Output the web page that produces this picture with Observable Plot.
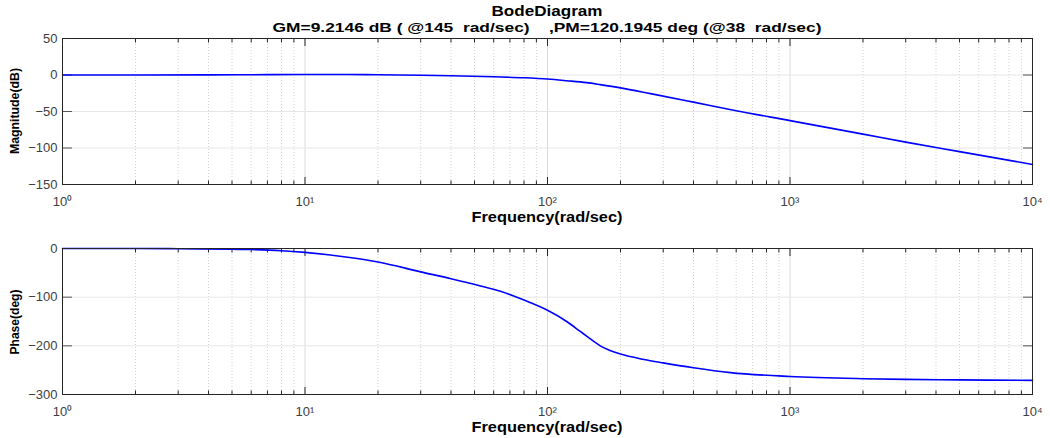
<!DOCTYPE html>
<html>
<head>
<meta charset="utf-8">
<script src="https://cdn.jsdelivr.net/npm/d3@7"></script>
<script src="https://cdn.jsdelivr.net/npm/@observablehq/plot@0.6"></script>
<style>
  html, body { margin: 0; padding: 0; background: #fff; overflow: hidden; }
  #wrap { position: relative; width: 1050px; height: 438px; background: #fff; }
  .plot { position: absolute; left: 0; }
  #overlay { position: absolute; left: 0; top: 0; pointer-events: none; }
  #overlay text { font-family: "Liberation Sans", Arial, sans-serif; font-weight: bold; fill: #000; white-space: pre; }
</style>
</head>
<body>
<div id="wrap">
  <div id="p1" class="plot" style="top:30px"></div>
  <div id="p2" class="plot" style="top:240px"></div>
  <svg id="overlay" width="1050" height="438">
    <text x="547" y="16" text-anchor="middle" font-size="14" textLength="111" lengthAdjust="spacingAndGlyphs">BodeDiagram</text>
    <text x="547" y="32" text-anchor="middle" font-size="13" textLength="549" lengthAdjust="spacingAndGlyphs" xml:space="preserve">GM=9.2146 dB ( @145  rad/sec)    ,PM=120.1945 deg (@38  rad/sec)</text>
    <text x="547" y="221.5" text-anchor="middle" font-size="14" textLength="151" lengthAdjust="spacingAndGlyphs">Frequency(rad/sec)</text>
    <text x="547" y="431.5" text-anchor="middle" font-size="14" textLength="151" lengthAdjust="spacingAndGlyphs">Frequency(rad/sec)</text>
    <text transform="translate(19,111) rotate(-90)" text-anchor="middle" font-size="13" textLength="86" lengthAdjust="spacingAndGlyphs">Magnitude(dB)</text>
    <text transform="translate(19,322) rotate(-90)" text-anchor="middle" font-size="13" textLength="65" lengthAdjust="spacingAndGlyphs">Phase(deg)</text>
  </svg>
</div>
<script>
// ---- data ----
const freq = [1, 2, 4, 7, 10, 15, 20, 30, 40, 60, 80, 100, 120, 145, 165, 200, 266, 400, 600, 1000, 2000, 3000, 5000, 10000];
const magnitudeDB = [0, 0, 0.2, 0.5, 0.6, 0.6, 0.4, -0.3, -1.0, -2.5, -3.8, -5.5, -7.8, -10.5, -13.2, -17.6, -25.5, -37.2, -49, -62.5, -81, -92, -105, -122.5];

const phaseFreq = [1, 2, 3, 5, 6, 8, 10, 15, 20, 30, 40, 53, 64, 80, 100, 120, 137, 145, 165, 180, 200, 250, 300, 400, 568, 1000, 2000, 3000, 5000, 10000];
const phaseDeg = [0, 0, -0.5, -1.5, -2.2, -4.5, -8, -18, -27.6, -48, -62, -77, -88, -106, -127, -150, -171, -180, -200, -209, -217, -228, -235, -245, -255, -263, -267.5, -269, -270, -271];

const majorX = [1, 10, 100, 1000, 10000];
const minorX = [2,3,4,5,6,7,8,9, 20,30,40,50,60,70,80,90, 200,300,400,500,600,700,800,900, 2000,3000,4000,5000,6000,7000,8000,9000];
const magTicks = [50, 0, -50, -100, -150];
const phaseTicks = [0, -100, -200, -300];
const expSup = ["\u2070", "\u00b9", "\u00b2", "\u00b3", "\u2074"];

const magData = freq.map((f, i) => ({f, v: magnitudeDB[i]}));
const phData = phaseFreq.map((f, i) => ({f, v: phaseDeg[i]}));

const supFmt = d => "10" + expSup[Math.round(Math.log10(d))];
const blank = () => "";
const frameColor = "#262626";

function bode(data, yDomain, yTicks, height, marginBottom) {
  return Plot.plot({
    width: 1050,
    height,
    marginLeft: 62,
    marginRight: 18,
    marginTop: 8,
    marginBottom,
    style: {fontFamily: "Liberation Sans, Arial, sans-serif", fontSize: "13px", color: "#404040", background: "transparent"},
    x: {type: "log", domain: [1, 10000]},
    y: {domain: yDomain},
    marks: [
      Plot.gridX({ticks: minorX, stroke: "#d4d4d4", strokeOpacity: 1, strokeDasharray: "1,2"}),
      Plot.gridX({ticks: majorX, stroke: "#dadada", strokeOpacity: 1}),
      Plot.gridY({ticks: yTicks, stroke: "#e6e6e6", strokeOpacity: 1}),
      Plot.axisX({ticks: majorX, tickSize: 0, tickPadding: 12, tickFormat: supFmt, label: null, fontSize: 13}),
      Plot.axisY({ticks: yTicks, tickSize: 0, tickPadding: 5, label: null, fontSize: 13}),
      Plot.axisX({ticks: majorX, tickSize: -7, tickFormat: blank, label: null, stroke: frameColor}),
      Plot.axisX({ticks: minorX, tickSize: -3.5, tickFormat: blank, label: null, stroke: frameColor}),
      Plot.axisX({anchor: "top", ticks: majorX, tickSize: -7, tickFormat: blank, label: null, stroke: frameColor}),
      Plot.axisX({anchor: "top", ticks: minorX, tickSize: -3.5, tickFormat: blank, label: null, stroke: frameColor}),
      Plot.axisY({ticks: yTicks, tickSize: -10, tickFormat: blank, label: null, stroke: "#555"}),
      Plot.axisY({anchor: "right", ticks: yTicks, tickSize: -10, tickFormat: blank, label: null, stroke: "#555"}),
      Plot.line(data, {x: "f", y: "v", stroke: "#0000ff", strokeWidth: 1.6, curve: "monotone-x"}),
      Plot.frame({stroke: frameColor, strokeWidth: 1})
    ]
  });
}

document.getElementById("p1").appendChild(bode(magData, [-150, 50], magTicks, 200, 46));
document.getElementById("p2").appendChild(bode(phData, [-300, 0], phaseTicks, 198, 44));
</script>
</body>
</html>
